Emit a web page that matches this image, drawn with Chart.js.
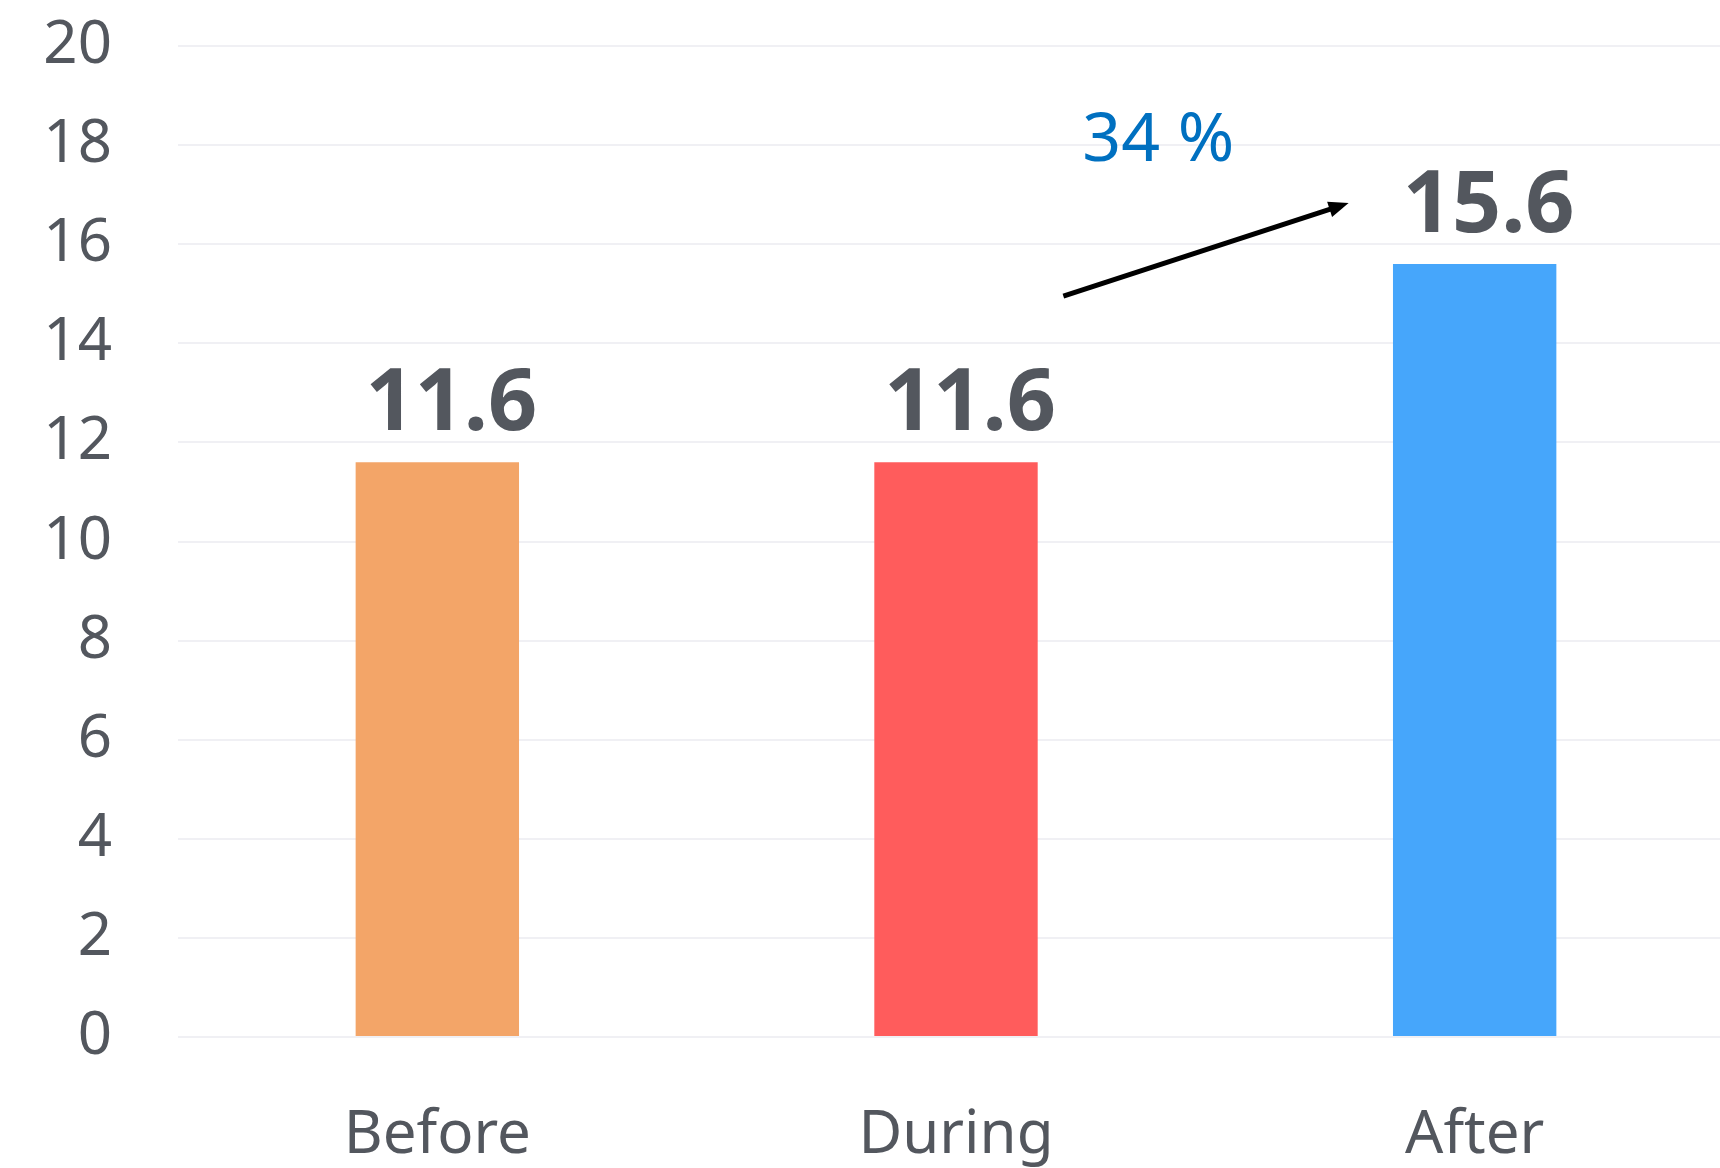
<!DOCTYPE html>
<html>
<head>
<meta charset="utf-8">
<script src="https://cdn.jsdelivr.net/npm/chart.js@4/dist/chart.umd.min.js"></script>
<style>
  html, body { margin: 0; padding: 0; background: #ffffff; overflow: hidden; }
  #wrap { width: 1720px; height: 1168px; overflow: hidden; }
  canvas { display: block; }
</style>
</head>
<body>
<div id="wrap"><canvas id="chart" width="1734" height="1168"></canvas></div>
<script>
// Categories and values
const categories = ['Before', 'During', 'After'];
const values = [11.6, 11.6, 15.6];
const barColors = ['#f3a568', '#ff5c5c', '#46a6fb'];

// Y axis range and step
const yMin = 0;
const yMax = 20;
const yStep = 2;

// Change from the first to the last period, in percent
const changePct = Math.round((values[values.length - 1] - values[0]) / values[0] * 100);

// Arrow and change label placed in data space (category index, value)
const arrowFrom = { x: 1.207, y: 14.95 };
const arrowTo = { x: 1.757, y: 16.83 };
const changeLabelAt = { x: 1.39, y: 17.68 };

const FONT = "'Noto Sans', 'Open Sans', sans-serif";
const TEXT = '#53575e';

const valueLabels = {
  id: 'valueLabels',
  afterDatasetsDraw(chart) {
    const ctx = chart.ctx;
    const meta = chart.getDatasetMeta(0);
    ctx.save();
    ctx.font = 'bold 86px ' + FONT;
    ctx.fillStyle = TEXT;
    ctx.textAlign = 'center';
    ctx.textBaseline = 'alphabetic';
    meta.data.forEach((bar, i) => {
      ctx.fillText(values[i].toFixed(1), bar.x + 14, bar.y - 32);
    });
    ctx.restore();
  }
};

const changeArrow = {
  id: 'changeArrow',
  afterDatasetsDraw(chart) {
    const ctx = chart.ctx;
    const xs = chart.scales.x, ys = chart.scales.y;
    const x0 = xs.getPixelForValue(arrowFrom.x), y0 = ys.getPixelForValue(arrowFrom.y);
    const x1 = xs.getPixelForValue(arrowTo.x), y1 = ys.getPixelForValue(arrowTo.y);
    const ang = Math.atan2(y1 - y0, x1 - x0);
    const headLen = 20, headHalf = 8;
    const bx = x1 - headLen * Math.cos(ang), by = y1 - headLen * Math.sin(ang);
    ctx.save();
    ctx.strokeStyle = '#000000';
    ctx.fillStyle = '#000000';
    ctx.lineWidth = 5;
    ctx.beginPath();
    ctx.moveTo(x0, y0);
    ctx.lineTo(bx + 4 * Math.cos(ang), by + 4 * Math.sin(ang));
    ctx.stroke();
    ctx.beginPath();
    ctx.moveTo(x1, y1);
    ctx.lineTo(bx + headHalf * Math.sin(ang), by - headHalf * Math.cos(ang));
    ctx.lineTo(bx - headHalf * Math.sin(ang), by + headHalf * Math.cos(ang));
    ctx.closePath();
    ctx.fill();

    ctx.font = '68px ' + FONT;
    ctx.fillStyle = '#0070c0';
    ctx.textAlign = 'center';
    ctx.textBaseline = 'alphabetic';
    ctx.fillText(changePct + ' %', xs.getPixelForValue(changeLabelAt.x), ys.getPixelForValue(changeLabelAt.y));
    ctx.restore();
  }
};

new Chart(document.getElementById('chart'), {
  type: 'bar',
  data: {
    labels: categories,
    datasets: [{
      data: values,
      backgroundColor: barColors,
      borderWidth: 0,
      barPercentage: 0.315,
      categoryPercentage: 1
    }]
  },
  options: {
    responsive: false,
    animation: false,
    devicePixelRatio: 1,
    layout: { padding: { top: 46, right: 0, left: 0, bottom: 0 } },
    plugins: {
      legend: { display: false },
      tooltip: { enabled: false }
    },
    scales: {
      x: {
        grid: { display: false, drawTicks: false },
        border: { display: false },
        ticks: {
          color: TEXT,
          font: { family: FONT, size: 60 },
          padding: 63
        },
        afterFit(scale) { scale.height = 131; }
      },
      y: {
        min: yMin,
        max: yMax,
        grid: { color: '#f0f0f4', lineWidth: 2, drawTicks: false },
        border: { display: false },
        ticks: {
          stepSize: yStep,
          color: TEXT,
          font: { family: FONT, size: 60 },
          padding: 66
        },
        afterFit(scale) {
          scale.width = 178;
          scale.paddingTop = 0;
          scale.paddingBottom = 0;
        }
      }
    }
  },
  plugins: [valueLabels, changeArrow]
});
</script>
</body>
</html>
